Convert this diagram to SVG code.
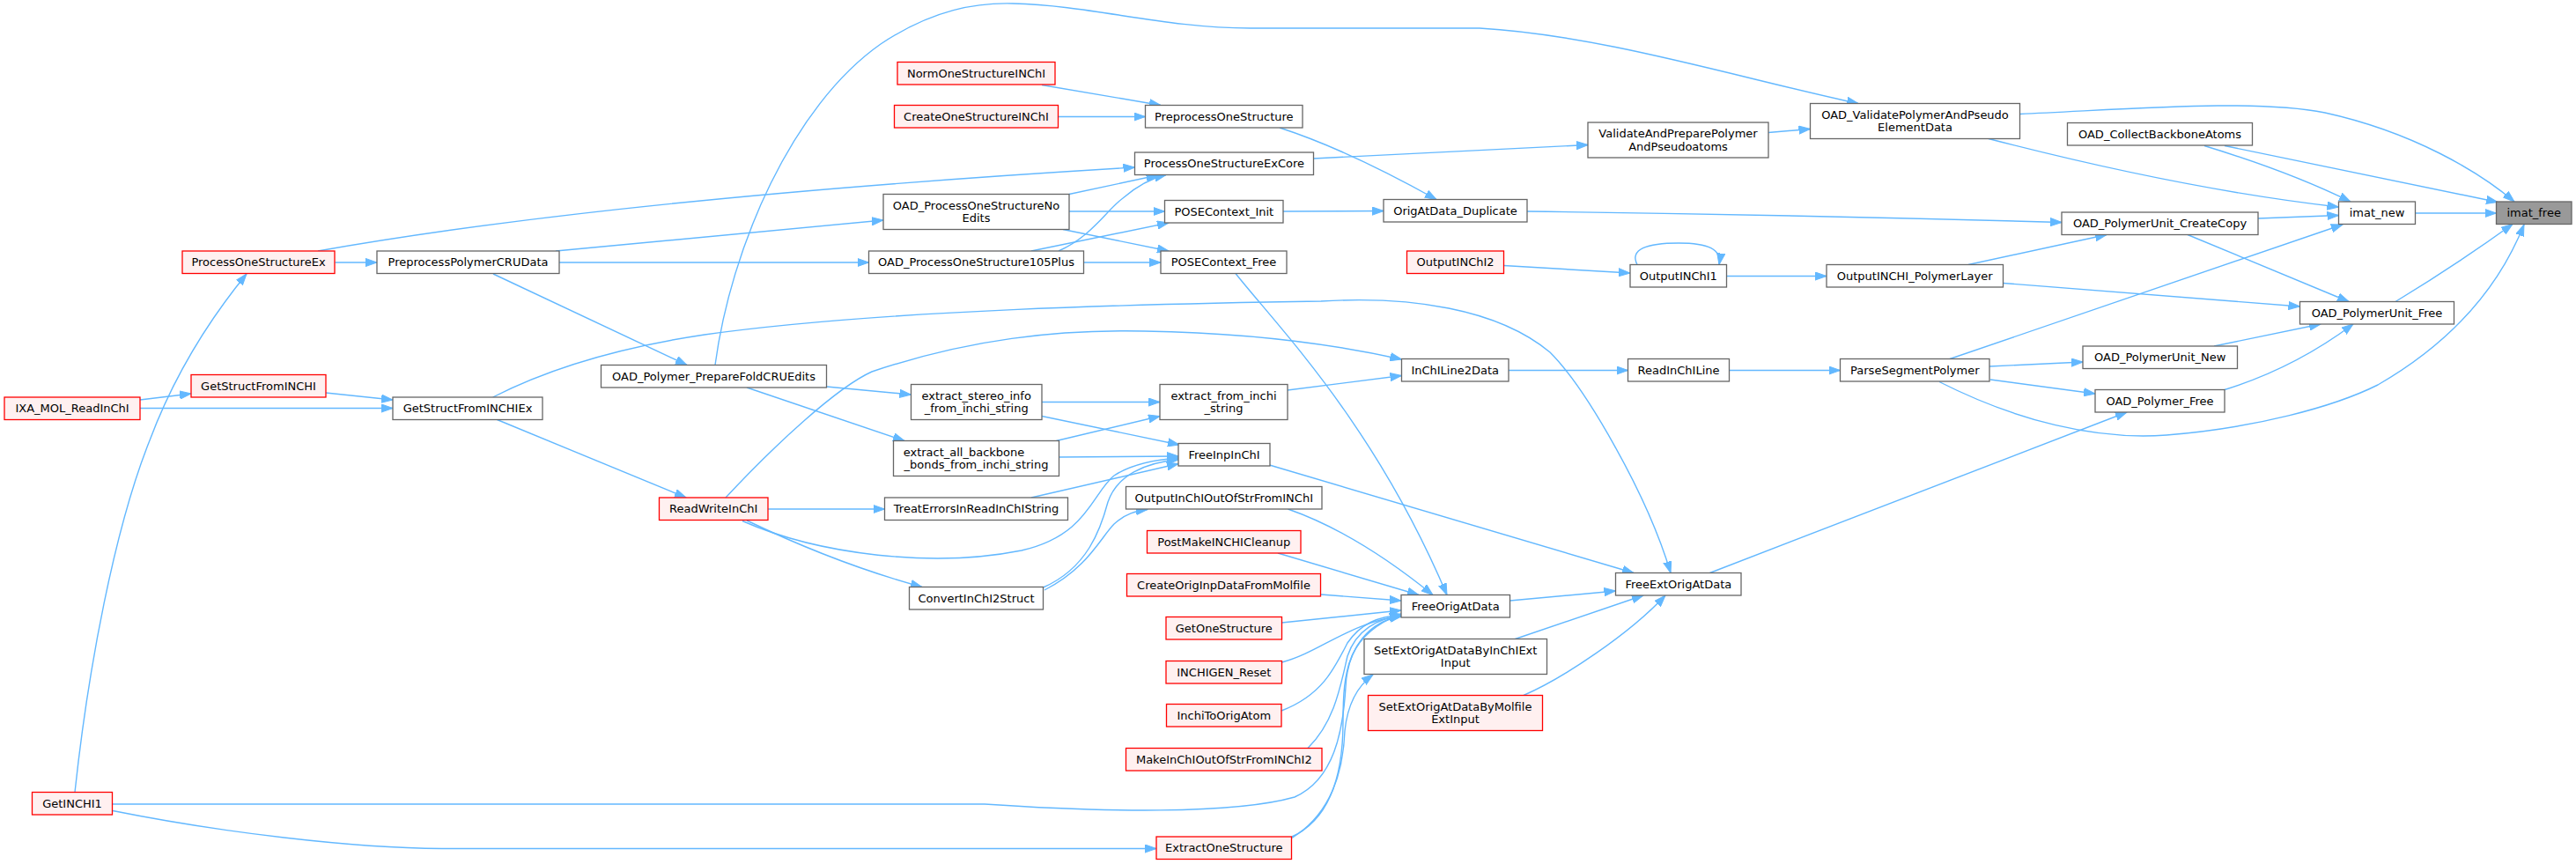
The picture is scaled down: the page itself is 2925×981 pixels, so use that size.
<svg xmlns="http://www.w3.org/2000/svg" width="2925" height="981" viewBox="0 0 2925 981">
<defs>
<style>
.n rect{fill:#ffffff;stroke:#666666;stroke-width:1.3}
.r rect{fill:#fff0f0;stroke:#ff0000;stroke-width:1.3}
.g rect{fill:#999999;stroke:#666666;stroke-width:1.3}
text{font-family:"DejaVu Sans","Liberation Sans",sans-serif;font-size:13px;fill:#000000;text-anchor:middle}
#edges path{fill:none;stroke:#63b8ff;stroke-width:1.4;marker-end:url(#ah)}
</style>
<marker id="ah" markerUnits="userSpaceOnUse" markerWidth="14" markerHeight="10" refX="13" refY="5" orient="auto">
<path d="M0,0.4 L13,5 L0,9.6 z" fill="#63b8ff" stroke="#63b8ff" stroke-width="1"/>
</marker>
</defs>
<rect x="0" y="0" width="2925" height="981" fill="#ffffff"/>
<g id="edges">
<path d="M2742.5,242 L2834.5,242"/>
<path d="M2293.5,129.5 C2420,124 2560,112 2640,128 C2740,150 2815,195 2855,229"/>
<path d="M2526,165.5 L2836,229.5"/>
<path d="M2720,342.5 Q2790,300 2853,254.5"/>
<path d="M2202,433.5 C2290,478 2380,500 2460,494 C2560,486 2650,462 2700,437 C2790,385 2840,320 2866,255"/>
<path d="M2258,157.5 Q2480,215 2655.5,235"/>
<path d="M2503,165.5 Q2600,195 2669,229"/>
<path d="M2564,248 L2655.5,244.5"/>
<path d="M2214,407.5 L2660,255"/>
<path d="M1734,240 Q2040,244 2341,252.5"/>
<path d="M2235,300.5 L2392,266.5"/>
<path d="M2484,266.5 L2667,342.5"/>
<path d="M2274.5,321.5 L2611.5,348"/>
<path d="M2514,393 L2635,368"/>
<path d="M2526,442.5 Q2605,418 2672,368"/>
<path d="M2259,416 L2365,411"/>
<path d="M2260,431 L2379,447"/>
<path d="M1941.5,650.5 L2415,468"/>
<path d="M1963.5,420.5 L2089.5,420.5"/>
<path d="M1713,420.5 L1848.5,420.5"/>
<path d="M1462,443 L1591.5,426.5"/>
<path d="M824,565 C880,505 950,440 990,422 C1100,385 1200,374 1300,376 C1420,378 1520,392 1591.5,408"/>
<path d="M559.6,451 C620,420 700,395 800,380 C1000,352 1300,345 1500,342 C1600,336 1700,350 1760,400 C1800,440 1870,560 1897,650.5"/>
<path d="M1441.5,528 L1855,650.5"/>
<path d="M1714.5,682 L1834.5,671"/>
<path d="M1720.5,725.5 L1866,676"/>
<path d="M1730,789.5 C1775,770 1850,720 1891,676"/>
<path d="M1403,310.5 C1450,370 1560,480 1643,675.5"/>
<path d="M1462.5,578 Q1540,605 1627,675.5"/>
<path d="M1451,628 L1611,675.5"/>
<path d="M1500,675 L1591,682"/>
<path d="M1455.5,707 L1591,693"/>
<path d="M1455.5,752 C1500,740 1530,708 1591,699"/>
<path d="M1455,807 C1500,790 1515,760 1530,730 C1545,708 1565,700 1591,698"/>
<path d="M1485,849.5 C1515,820 1522,780 1530,745 C1540,715 1565,702 1591,699"/>
<path d="M128,913 L1118,913 C1250,922 1400,925 1470,905 C1515,885 1525,830 1528,780 C1530,735 1555,705 1591,700"/>
<path d="M1467,950 C1510,930 1525,880 1525,820 C1525,760 1530,720 1591,697"/>
<path d="M1467,951.5 C1510,925 1525,880 1527,830 C1530,800 1540,780 1559,766"/>
<path d="M128,920.5 C250,945 400,963 502,963.5 L1313,963.5"/>
<path d="M85,899.5 C100,760 130,600 170,500 C200,420 240,360 280,311"/>
<path d="M159,454 L217,447"/>
<path d="M159,463.5 L446,463.5"/>
<path d="M370,446 L446,454"/>
<path d="M564.5,476.5 L779,565"/>
<path d="M380.5,298 L428,298"/>
<path d="M361,285 Q700,225 1288.5,190"/>
<path d="M631,285 L1003,250"/>
<path d="M635,298 L986.5,298"/>
<path d="M560,311 L780,414.5"/>
<path d="M812,414.5 C830,280 900,120 1000,50 C1060,10 1110,3 1150,4 C1240,6 1320,32 1420,32 L1680,32 C1820,40 1980,90 2110,117.5"/>
<path d="M938.5,439 L1034.5,448"/>
<path d="M848,440 L1027,500.5"/>
<path d="M872,578 L1004.5,578"/>
<path d="M843,591.5 C930,630 1060,645 1160,625 C1235,608 1240,560 1265,540 C1285,527 1310,522 1338,520"/>
<path d="M848,591 Q950,640 1047,666.5"/>
<path d="M1171,565 L1338,526.5"/>
<path d="M1183,456.5 L1317,456.5"/>
<path d="M1183,472.5 L1339,505"/>
<path d="M1199.5,500.5 L1317,472.5"/>
<path d="M1202.5,519 L1338,518"/>
<path d="M1184.5,667 C1235,645 1250,600 1258,570 C1268,540 1300,525 1338,522"/>
<path d="M1186,670 C1235,645 1250,610 1265,595 C1278,583 1290,580 1303,578.5"/>
<path d="M1214,220.5 L1314.5,199"/>
<path d="M1214,240 L1322.5,240"/>
<path d="M1207,260.5 L1327,285"/>
<path d="M1171,285 L1327,253"/>
<path d="M1202,285 C1240,268 1255,240 1275,225 C1290,212 1305,203 1324,198.5"/>
<path d="M1230.5,298 L1318,298"/>
<path d="M1457,240 L1571,239.5"/>
<path d="M1453,145 Q1530,170 1631,226.5"/>
<path d="M1491.5,180 L1803,164.5"/>
<path d="M1183,96.5 L1318,119.5"/>
<path d="M1201.5,132.5 L1300.5,132.5"/>
<path d="M2008,150.5 L2055.5,146.5"/>
<path d="M1707.5,301.5 L1851,310"/>
<path d="M1859,300.5 C1850,283 1870,276 1906,276 C1940,276 1955,283 1952,300.5"/>
<path d="M1960.5,313.5 L2074,313.5"/>
</g>
<g id="n1" class="r"><rect x="5" y="451" width="154" height="25.5"/><text x="82" y="468">IXA_MOL_ReadInChI</text></g>
<g id="n2" class="r"><rect x="36.5" y="899.5" width="91" height="25.5"/><text x="82" y="916.5">GetINCHI1</text></g>
<g id="n3" class="r"><rect x="207" y="285" width="173" height="25.5"/><text x="293.5" y="302">ProcessOneStructureEx</text></g>
<g id="n4" class="r"><rect x="217" y="425.5" width="153" height="25.5"/><text x="293.5" y="442.5">GetStructFromINCHI</text></g>
<g id="n5" class="n"><rect x="428" y="285" width="207" height="25.5"/><text x="531.5" y="302">PreprocessPolymerCRUData</text></g>
<g id="n6" class="n"><rect x="446" y="451" width="170" height="25.5"/><text x="531" y="468">GetStructFromINCHIEx</text></g>
<g id="n7" class="n"><rect x="682.5" y="414.5" width="256" height="25.5"/><text x="810.5" y="431.5">OAD_Polymer_PrepareFoldCRUEdits</text></g>
<g id="n8" class="r"><rect x="748.5" y="565" width="123.5" height="25.5"/><text x="810.2" y="582">ReadWriteInChI</text></g>
<g id="n9" class="r"><rect x="1019" y="70.5" width="179" height="25.5"/><text x="1108.5" y="87.5">NormOneStructureINChI</text></g>
<g id="n10" class="r"><rect x="1015.5" y="119.5" width="186" height="25.5"/><text x="1108.5" y="136.5">CreateOneStructureINChI</text></g>
<g id="n11" class="n"><rect x="1003" y="220.5" width="211" height="40"/><text x="1108.5" y="237.5">OAD_ProcessOneStructureNo</text><text x="1108.5" y="252">Edits</text></g>
<g id="n12" class="n"><rect x="986.5" y="285" width="244" height="25.5"/><text x="1108.5" y="302">OAD_ProcessOneStructure105Plus</text></g>
<g id="n13" class="n"><rect x="1034.5" y="436.5" width="148.5" height="40"/><text x="1108.7" y="453.5">extract_stereo_info</text><text x="1108.7" y="468">_from_inchi_string</text></g>
<g id="n14" class="n"><rect x="1014.5" y="500.5" width="188" height="40"/><text x="1094.5" y="517.5">extract_all_backbone</text><text x="1108.5" y="532">_bonds_from_inchi_string</text></g>
<g id="n15" class="n"><rect x="1004.5" y="565" width="208" height="25.5"/><text x="1108.5" y="582">TreatErrorsInReadInChIString</text></g>
<g id="n16" class="n"><rect x="1032.5" y="666.5" width="152" height="25.5"/><text x="1108.5" y="683.5">ConvertInChI2Struct</text></g>
<g id="n17" class="n"><rect x="1300.5" y="119.5" width="178.5" height="25.5"/><text x="1389.8" y="136.5">PreprocessOneStructure</text></g>
<g id="n18" class="n"><rect x="1288.5" y="173" width="203" height="25.5"/><text x="1390" y="190">ProcessOneStructureExCore</text></g>
<g id="n19" class="n"><rect x="1322.5" y="227.5" width="134.5" height="25.5"/><text x="1389.8" y="244.5">POSEContext_Init</text></g>
<g id="n20" class="n"><rect x="1318" y="285" width="143" height="25.5"/><text x="1389.5" y="302">POSEContext_Free</text></g>
<g id="n21" class="n"><rect x="1317" y="436.5" width="145" height="40"/><text x="1389.5" y="453.5">extract_from_inchi</text><text x="1389.5" y="468">_string</text></g>
<g id="n22" class="n"><rect x="1338" y="503.5" width="104" height="25.5"/><text x="1390" y="520.5">FreeInpInChI</text></g>
<g id="n23" class="n"><rect x="1278.5" y="552.5" width="222.5" height="25.5"/><text x="1389.8" y="569.5">OutputInChIOutOfStrFromINChI</text></g>
<g id="n24" class="r"><rect x="1302.5" y="602.5" width="174.5" height="25.5"/><text x="1389.8" y="619.5">PostMakeINCHICleanup</text></g>
<g id="n25" class="r"><rect x="1279.5" y="651.5" width="220" height="25.5"/><text x="1389.5" y="668.5">CreateOrigInpDataFromMolfile</text></g>
<g id="n26" class="r"><rect x="1324" y="700.5" width="131.5" height="25.5"/><text x="1389.8" y="717.5">GetOneStructure</text></g>
<g id="n27" class="r"><rect x="1324" y="750.5" width="131.5" height="25.5"/><text x="1389.8" y="767.5">INCHIGEN_Reset</text></g>
<g id="n28" class="r"><rect x="1324.5" y="799.5" width="130.5" height="25.5"/><text x="1389.8" y="816.5">InchiToOrigAtom</text></g>
<g id="n29" class="r"><rect x="1278.5" y="849.5" width="222.5" height="25.5"/><text x="1389.8" y="866.5">MakeInChIOutOfStrFromINChI2</text></g>
<g id="n30" class="r"><rect x="1313" y="950" width="153.5" height="25.5"/><text x="1389.8" y="967">ExtractOneStructure</text></g>
<g id="n31" class="n"><rect x="1571" y="226.5" width="163" height="25.5"/><text x="1652.5" y="243.5">OrigAtData_Duplicate</text></g>
<g id="n32" class="r"><rect x="1597.5" y="285" width="110" height="25.5"/><text x="1652.5" y="302">OutputINChI2</text></g>
<g id="n33" class="n"><rect x="1591.5" y="407.5" width="121.5" height="25.5"/><text x="1652.2" y="424.5">InChILine2Data</text></g>
<g id="n34" class="n"><rect x="1591" y="675.5" width="123.5" height="25.5"/><text x="1652.7" y="692.5">FreeOrigAtData</text></g>
<g id="n35" class="n"><rect x="1549" y="725.5" width="207.5" height="40"/><text x="1652.7" y="742.5">SetExtOrigAtDataByInChIExt</text><text x="1652.7" y="757">Input</text></g>
<g id="n36" class="r"><rect x="1553.5" y="789.5" width="198" height="40"/><text x="1652.5" y="806.5">SetExtOrigAtDataByMolfile</text><text x="1652.5" y="821">ExtInput</text></g>
<g id="n37" class="n"><rect x="1803" y="139" width="205" height="40"/><text x="1905.5" y="156">ValidateAndPreparePolymer</text><text x="1905.5" y="170.5">AndPseudoatoms</text></g>
<g id="n38" class="n"><rect x="1851" y="300.5" width="109.5" height="25.5"/><text x="1905.8" y="317.5">OutputINChI1</text></g>
<g id="n39" class="n"><rect x="1848.5" y="407.5" width="115" height="25.5"/><text x="1906" y="424.5">ReadInChILine</text></g>
<g id="n40" class="n"><rect x="1834.5" y="650.5" width="142.5" height="25.5"/><text x="1905.8" y="667.5">FreeExtOrigAtData</text></g>
<g id="n41" class="n"><rect x="2055.5" y="117.5" width="238" height="40"/><text x="2174.5" y="134.5">OAD_ValidatePolymerAndPseudo</text><text x="2174.5" y="149">ElementData</text></g>
<g id="n42" class="n"><rect x="2074" y="300.5" width="200.5" height="25.5"/><text x="2174.2" y="317.5">OutputINCHI_PolymerLayer</text></g>
<g id="n43" class="n"><rect x="2089.5" y="407.5" width="169.5" height="25.5"/><text x="2174.3" y="424.5">ParseSegmentPolymer</text></g>
<g id="n44" class="n"><rect x="2347.5" y="139.5" width="210" height="25.5"/><text x="2452.5" y="156.5">OAD_CollectBackboneAtoms</text></g>
<g id="n45" class="n"><rect x="2341" y="241" width="223" height="25.5"/><text x="2452.5" y="258">OAD_PolymerUnit_CreateCopy</text></g>
<g id="n46" class="n"><rect x="2365" y="393" width="175.5" height="25.5"/><text x="2452.7" y="410">OAD_PolymerUnit_New</text></g>
<g id="n47" class="n"><rect x="2379" y="442.5" width="147" height="25.5"/><text x="2452.5" y="459.5">OAD_Polymer_Free</text></g>
<g id="n48" class="n"><rect x="2655.5" y="229" width="87" height="25.5"/><text x="2699" y="246">imat_new</text></g>
<g id="n49" class="n"><rect x="2611.5" y="342.5" width="175" height="25.5"/><text x="2699" y="359.5">OAD_PolymerUnit_Free</text></g>
<g id="n50" class="g"><rect x="2834.5" y="229" width="85.5" height="25.5"/><text x="2877.2" y="246">imat_free</text></g>
</svg>
